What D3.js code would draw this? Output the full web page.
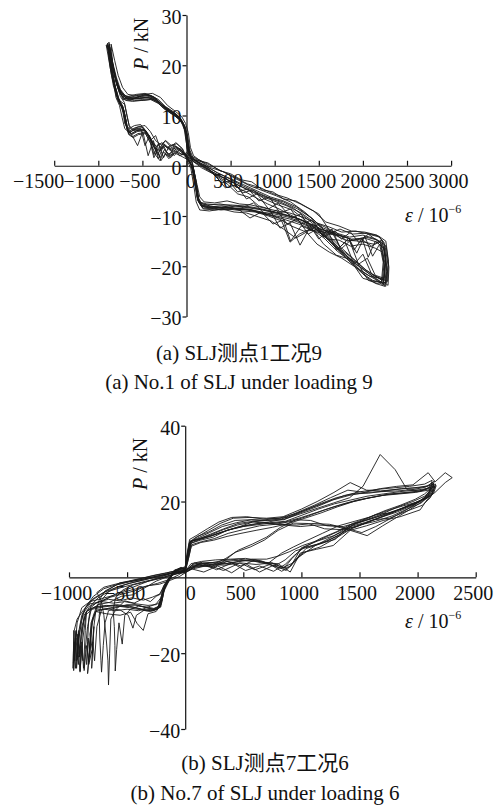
<!DOCTYPE html>
<html>
<head>
<meta charset="utf-8">
<script src="https://d3js.org/d3.v7.min.js"></script>
<style>
  body { margin: 0; background: #fff; }
  svg { display: block; }
</style>
</head>
<body>
<script>
// P-strain hysteresis loops of two SLJ gauges, redrawn with d3

// ---- panel (a): gauge 1, loading 9 ----
var xTicksA = [-1500, -1000, -500, 0, 500, 1000, 1500, 2000, 2500, 3000];
var yTicksA = [-30, -20, -10, 0, 10, 20, 30];

// every cycle is a list of [strain 10^-6, load kN]
var cycA1 = [[0,2],[60,0],[100,-3],[125,-6.5],[160,-7.8],[260,-8.2],[400,-8],[550,-8.4],[700,-8.6],[850,-9.2],[1000,-9.6],[1150,-10.2],[1300,-11.2],[1450,-12.4],[1600,-14.2],[1750,-16.8],[1900,-19.2],[2050,-21.2],[2150,-22.6],[2250,-23.6],
  [2265,-20],[2235,-16],[2150,-14.6],[2000,-13.8],[1850,-14.2],[1700,-13.4],[1550,-12.4],[1400,-10.2],[1250,-8.2],[1100,-7],[950,-6.2],[800,-5],[650,-3.8],[500,-2.6],[350,-1.4],[200,0.2],[100,1],[50,1.6],
  [20,3],[0,6],[-30,8],[-80,9.6],[-150,10.4],[-250,11.6],[-330,13],[-420,13.8],[-520,13.4],[-620,13.2],[-700,13.6],[-760,15],[-800,17],[-840,20],[-880,24],
  [-860,20],[-820,16],[-770,13],[-720,11.6],[-690,9],[-670,7],[-620,6.2],[-560,6.8],[-480,7],[-420,5.6],[-360,3.4],[-300,3],[-250,4],[-180,3],[-120,3.6],[-60,3],[0,2]];
var cycA2 = [[10,1.5],[70,-0.5],[110,-4],[135,-7],[180,-8.4],[300,-8.6],[450,-8.2],[600,-8.8],[720,-10.4],[850,-9.2],[980,-11.6],[1100,-10.8],[1180,-15],[1300,-12],[1450,-13],[1550,-15.5],[1700,-17.8],[1850,-18.6],[2000,-22.4],[2120,-23],[2230,-23.2],
  [2250,-19.4],[2200,-15],[2100,-16],[1980,-14.6],[1820,-15],[1680,-13],[1560,-14.2],[1420,-10.8],[1300,-11.6],[1180,-8.6],[1060,-9.4],[940,-6.2],[820,-7],[700,-4.6],[580,-5.2],[460,-2.6],[320,-1.8],[190,0.6],[90,1.4],[40,2],
  [10,4],[-10,7],[-40,8.6],[-90,9.8],[-170,10.8],[-270,12],[-350,13.4],[-440,14.2],[-540,13.8],[-640,13],[-720,13.2],[-770,15.4],[-810,18],[-850,21],[-895,24.4],
  [-870,21],[-830,17],[-800,13.6],[-760,12],[-730,9.6],[-700,7.4],[-650,6.6],[-590,7.2],[-520,7.4],[-470,4],[-420,6],[-370,2.2],[-320,4.4],[-260,1.6],[-200,3.8],[-140,2],[-70,3.4],[10,1.5]];
var cycA3 = [[-10,2.4],[50,0.4],[90,-2.5],[115,-6],[150,-7.4],[240,-7.8],[380,-7.6],[520,-8],[680,-8.2],[820,-8.6],[980,-9.2],[1120,-9.8],[1280,-10.6],[1420,-11.8],[1580,-13.6],[1720,-16.2],[1880,-18.4],[2020,-20.6],[2140,-22],[2280,-23],
  [2290,-19],[2260,-15],[2180,-14],[2040,-13.4],[1880,-13.6],[1740,-12.6],[1640,-13.4],[1500,-9.6],[1380,-8.4],[1240,-7],[1100,-6.6],[980,-5.2],[860,-4.8],[740,-3.2],[620,-2.8],[500,-1.6],[380,-1],[240,0.6],[130,1],[60,1.2],
  [30,2.6],[5,5.4],[-20,7.6],[-70,9.2],[-140,10],[-230,11.2],[-310,12.6],[-400,13.4],[-500,13.2],[-600,13.4],[-680,13.8],[-740,14.6],[-790,16.4],[-830,19.4],[-870,23.6],
  [-850,19.4],[-810,15.4],[-760,12.4],[-710,11],[-680,8.4],[-660,6.4],[-610,5.8],[-550,6.4],[-470,6.6],[-410,4.6],[-370,1.6],[-330,3.2],[-290,1],[-240,2.4],[-180,1.6],[-110,3],[-50,2.2],[-10,2.4]];
var cycA4 = [[5,1.8],[55,0.2],[95,-3.4],[130,-7],[170,-8],[280,-8.4],[420,-8.2],[580,-8.6],[720,-8.8],[870,-9.4],[1020,-10],[1170,-10.6],[1320,-11.6],[1480,-12.8],[1620,-14.8],[1780,-17.4],[1920,-19.6],[2080,-21.6],[2180,-22.8],[2260,-24],
  [2275,-20.6],[2245,-16.6],[2160,-15.2],[2020,-14.4],[1870,-14.6],[1720,-13.8],[1570,-13],[1420,-11.6],[1287,-15.8],[1174,-11.4],[1060,-12.4],[940,-8.6],[820,-8],[700,-6.2],[580,-5.6],[460,-3.6],[340,-2.2],[220,-0.2],[110,0.8],[55,1.4],
  [25,3.2],[0,6.4],[-35,8.4],[-85,9.4],[-160,10.2],[-260,11.4],[-340,12.8],[-430,13.6],[-530,13.6],[-630,13.4],[-710,13.4],[-765,14.8],[-805,17.4],[-845,20.6],[-885,23.8],
  [-865,20.4],[-825,16.4],[-775,13.2],[-725,11.8],[-695,9.2],[-675,7.2],[-625,6.4],[-565,7],[-485,7.2],[-425,5.8],[-365,3.6],[-305,3.2],[-255,4.2],[-185,3.2],[-125,3.8],[-65,3.2],[5,1.8]];
var cycA5 = [[0,2.2],[65,0.6],[105,-2.8],[140,-6.8],[190,-8.6],[320,-8.8],[470,-8.6],[640,-9],[780,-9.2],[930,-10],[1080,-11],[1174,-15.2],[1280,-13.6],[1400,-12.6],[1540,-13.6],[1680,-16],[1820,-18],[1960,-20.6],[2080,-22],[2200,-22.4],[2240,-22.8],
  [2255,-18.6],[2215,-14.8],[2120,-15.6],[1960,-15],[1800,-14.8],[1660,-13.6],[1500,-13],[1360,-11],[1200,-8.8],[1040,-7.8],[880,-6.6],[754,-4.8],[640,-5.4],[520,-3],[400,-3.4],[300,-1.6],[170,-0.4],[80,0.8],[30,1.8],
  [5,3.6],[-15,6.8],[-45,8.8],[-100,10],[-180,11],[-280,12.2],[-360,13.6],[-450,14.2],[-550,14],[-650,13.6],[-730,13.8],[-780,15.6],[-820,18.4],[-855,21.4],[-900,24.2],
  [-880,21.6],[-840,17.6],[-790,14],[-745,12.4],[-710,10.2],[-690,8],[-640,7],[-580,7.6],[-510,7.8],[-450,6.4],[-390,4.6],[-330,2.2],[-270,3.8],[-210,2.2],[-150,3],[-80,2.4],[0,2.2]];
var cycA6 = [[-5,1.6],[45,0.8],[85,-2],[120,-5.6],[145,-7.2],[230,-7.6],[360,-7.8],[500,-7.8],[660,-8],[800,-8.4],[960,-9],[1100,-9.6],[1240,-10.4],[1380,-11.4],[1500,-14.6],[1600,-12.8],[1700,-16.8],[1800,-15.2],[1900,-19.6],[2000,-17.6],[2100,-21.6],[2220,-22.8],
  [2240,-19.6],[2200,-15.4],[2060,-13.6],[1920,-13],[1760,-13.2],[1620,-12.2],[1480,-11.4],[1340,-9.2],[1180,-7.2],[1020,-6],[870,-5],[720,-4],[560,-2.6],[420,-1.2],[280,-0.4],[160,1],[70,1.8],[20,2.2],
  [0,4.4],[-25,7.2],[-60,8.8],[-120,10.2],[-200,11],[-290,12.4],[-380,13.8],[-470,14.4],[-570,14.2],[-660,13.8],[-740,14.2],[-790,16],[-830,18.8],[-865,22],[-910,24],
  [-890,22],[-850,18],[-800,14.4],[-755,12.8],[-720,10.6],[-700,8.4],[-650,7.4],[-590,8],[-520,8.2],[-460,6.8],[-400,4.8],[-340,3.8],[-280,4.6],[-220,3.6],[-160,4.2],[-90,3.4],[-5,1.6]];
var cycA7 = [[15,1.2],[75,-0.2],[115,-4.4],[145,-7.4],[200,-8.2],[330,-8.4],[480,-8.6],[620,-8.4],[760,-7.4],[900,-9.8],[1020,-8.8],[1140,-11.6],[1260,-10.6],[1380,-13.6],[1500,-12.4],[1640,-15.2],[1800,-18],[1940,-19.4],[2060,-22.8],[2160,-23.4],[2270,-23.2],
  [2285,-19.8],[2250,-15.8],[2170,-14.8],[2030,-14.2],[1890,-14.8],[1760,-14],[1620,-13.6],[1460,-11.4],[1300,-9.4],[1140,-8],[990,-7],[840,-6],[690,-4.8],[540,-3.4],[400,-2.2],[250,-0.8],[130,0.4],[70,1],
  [35,2.4],[10,5],[-20,7.8],[-60,9],[-130,10],[-220,11],[-300,12.4],[-390,13.2],[-490,13],[-590,13],[-670,13.2],[-735,14.4],[-780,16.2],[-825,19],[-865,23],
  [-845,19],[-805,15],[-755,12.2],[-705,10.8],[-675,8.2],[-655,6.2],[-605,5.6],[-545,6.2],[-465,6.4],[-405,4.4],[-345,2],[-300,1],[-260,2.8],[-200,1.4],[-140,2.6],[-70,2],[15,1.2]];
var cycA8 = [[5,2.6],[60,1],[100,-2.2],[135,-6.4],[175,-7.6],[270,-8],[410,-8.4],[560,-8],[710,-8.4],[860,-8.8],[1010,-9.4],[1160,-10],[1310,-10.8],[1460,-12],[1610,-13.8],[1760,-16.4],[1910,-18.8],[2040,-20.8],[2170,-22.2],[2285,-23.8],
  [2295,-20.2],[2265,-16.2],[2190,-14.2],[2060,-13.6],[1960,-15.4],[1860,-13.2],[1760,-14.6],[1640,-12.8],[1500,-11.6],[1400,-12.8],[1300,-9.6],[1190,-10.4],[1040,-7.4],[930,-8.6],[800,-5.6],[680,-6.6],[560,-3.8],[440,-4.4],[300,-1.4],[150,0.4],[80,1.4],
  [40,3],[15,5.8],[-15,7.8],[-65,9.4],[-135,10.6],[-240,11.8],[-320,13.2],[-410,14],[-510,13.8],[-610,13.6],[-690,13.8],[-750,15.2],[-795,17.6],[-835,20.4],[-875,24.2],
  [-855,20.2],[-815,16.2],[-765,12.8],[-715,11.4],[-685,8.8],[-665,6.8],[-615,6],[-555,4],[-495,6.8],[-435,2],[-375,5],[-320,1.4],[-260,4],[-200,1.8],[-140,3.6],[-80,2],[5,2.6]];
var cycA9 = [[-5,2],[55,0],[95,-3],[125,-6.8],[165,-8],[260,-8.4],[390,-8.8],[540,-8.6],[690,-8.8],[840,-9.4],[990,-10],[1130,-10.8],[1270,-11.6],[1420,-12.6],[1560,-14.4],[1710,-17],[1860,-19],[2010,-21.6],[2110,-22.8],[2210,-23.2],
  [2230,-19.2],[2190,-15.6],[2110,-18],[2020,-14],[1930,-17.4],[1840,-14.4],[1740,-16.2],[1650,-13.2],[1510,-12.6],[1370,-10.6],[1210,-8.4],[1060,-7.2],[900,-6.2],[760,-5.2],[600,-4],[460,-2.8],[330,-1.6],[180,0],[90,1.2],[40,1.8],
  [10,3.4],[-10,6.6],[-40,8.2],[-95,9.6],[-165,10.6],[-265,11.8],[-345,13.2],[-435,14],[-535,13.8],[-635,13.2],[-715,13.4],[-770,15],[-810,17.8],[-850,21],[-890,23.4],
  [-870,20],[-830,16],[-780,13],[-730,11.8],[-700,9.4],[-680,7.6],[-630,6.8],[-570,7.4],[-490,7.6],[-430,6.2],[-370,4.4],[-310,3.4],[-260,4.4],[-190,3.4],[-130,4],[-60,3.2],[-5,2]];
var cycA10 = [[10,2],[70,0.4],[110,-3.6],[130,-6.6],[170,-7.8],[290,-8.2],[440,-8.4],[590,-8.6],[740,-8.8],[890,-9.6],[1040,-10.4],[1190,-12],[1330,-13],[1470,-12.8],[1600,-14.6],[1740,-17.2],[1880,-19.6],[2030,-22],[2140,-23.4],[2250,-24],
  [2270,-21],[2240,-16.4],[2140,-15],[2060,-18.2],[1990,-14.4],[1900,-16.8],[1840,-14.4],[1700,-13.6],[1560,-12.8],[1420,-10.4],[1260,-8.6],[1100,-7.2],[940,-6.4],[790,-5.2],[640,-4],[490,-2.6],[350,-1.4],[210,0],[110,1],[60,1.6],
  [25,3.6],[5,6.2],[-25,8],[-75,9.4],[-145,10.4],[-245,11.4],[-325,12.8],[-415,13.6],[-515,13.4],[-615,13.4],[-695,13.6],[-755,15.2],[-800,17.2],[-840,20.2],[-880,24.6],
  [-860,20.6],[-820,16.6],[-770,13.4],[-720,11.8],[-690,9.2],[-670,7.2],[-620,6.4],[-560,7],[-480,7.2],[-420,5.8],[-360,3.8],[-300,1.6],[-250,3.2],[-180,2],[-120,3.4],[-60,2.8],[10,2]];
var cycA11 = [[0,1.4],[50,-0.6],[85,-4.2],[110,-7.2],[150,-8.8],[260,-9],[400,-8.6],[540,-9.2],[680,-9.4],[820,-10.2],[960,-11],[1100,-12.6],[1240,-14.4],[1360,-13.2],[1480,-15.6],[1620,-17.2],[1760,-18.4],[1900,-20],[2020,-21.4],[2140,-22.6],[2230,-23.8],
  [2245,-21],[2225,-17.2],[2140,-16.4],[2000,-15.6],[1860,-16],[1730,-14.8],[1600,-14.6],[1460,-12.4],[1320,-11],[1180,-9.8],[1050,-8.6],[920,-7.6],[790,-6.4],[650,-5],[520,-3.8],[380,-2.4],[250,-1],[140,0.2],[60,1],
  [30,2.8],[8,5.6],[-25,7.8],[-75,9],[-150,10.2],[-240,11.2],[-320,12.4],[-410,13.2],[-510,13],[-610,12.8],[-690,13],[-745,14.2],[-790,16.8],[-830,19.8],[-860,22.6],
  [-845,19.6],[-805,15.6],[-760,13],[-700,12.2],[-670,9.6],[-645,7.6],[-600,7],[-540,7.2],[-460,7],[-400,5.2],[-350,6],[-300,3.6],[-240,5],[-180,3.8],[-120,4.6],[-50,3.4],[0,1.4]];
var cycA12 = [[20,1],[80,-0.8],[120,-3.8],[150,-6.2],[200,-7.2],[320,-7.4],[460,-7],[600,-7.6],[730,-7.8],[880,-8.4],[1030,-9],[1170,-9.4],[1310,-10.2],[1450,-11.2],[1550,-14.2],[1650,-12.6],[1750,-16.6],[1850,-15],[1950,-19.6],[2050,-18.4],[2140,-21.8],[2240,-22.4],
  [2262,-18.8],[2238,-15.2],[2160,-13.8],[2020,-13.2],[1870,-13],[1730,-12],[1580,-11.2],[1440,-9],[1290,-7.6],[1140,-6.4],[990,-5.6],[840,-4.4],[690,-3.6],[540,-2.2],[390,-1],[260,0.2],[140,1.2],[80,2],
  [45,3.6],[20,6.6],[-10,8.4],[-55,9.8],[-125,10.8],[-215,12],[-295,13.6],[-385,14.4],[-485,14.2],[-585,14],[-665,14.2],[-725,15.6],[-775,18],[-815,21],[-855,24.2],
  [-840,20.8],[-800,16.8],[-750,13.8],[-705,12.6],[-675,10],[-650,8],[-605,7.2],[-545,7.8],[-470,8],[-410,6.8],[-350,5],[-290,4.2],[-235,5],[-170,4],[-110,4.4],[-45,3.4],[20,1]];

// ---- panel (b): gauge 7, loading 6 ----
var xTicksB = [-1000, -500, 0, 500, 1000, 1500, 2000, 2500];
var yTicksB = [-40, -20, 20, 40];

var cycB1 = [[0,2],[15,5],[35,9],[100,10.6],[200,12.4],[300,14.2],[413,15.6],[550,15.8],[700,15.6],[843,16],[1000,18],[1136,20],[1280,22.4],[1420,25],[1560,23],[1680,22.8],[1820,23.2],[1960,23.6],[2080,24],[2140,24.6],
  [2130,22],[2080,20.4],[2022,17.8],[1850,16],[1704,15],[1560,13.6],[1420,12.4],[1274,8.4],[1130,7.4],[990,6.4],[904,1.4],[800,3.6],[705,3.8],[560,4.6],[413,4.4],[280,3.8],[150,4],[60,3.4],[0,1.4],
  [-80,1.2],[-130,1],[-230,0.4],[-350,-0.4],[-460,-1],[-560,-1.4],[-680,-3.6],[-792,-5.6],[-860,-8],[-900,-12],[-930,-21],[-915,-14],[-945,-24],[-955,-17],[-960,-24.6],
  [-940,-16],[-920,-23],[-895,-15],[-860,-10],[-800,-8.4],[-700,-7.8],[-600,-7.4],[-448,-7.9],[-330,-8.8],[-276,-8.8],[-215,-7.9],[-189,-3.5],[-155,-1.6],[-100,1.6],[-40,2.6],[0,2]];
var cycB2 = [[0,2.4],[20,6],[45,9.6],[120,10.2],[220,11.2],[330,12.6],[450,13.8],[580,14.6],[720,14.2],[860,14.6],[1000,15.8],[1140,17.2],[1280,18.6],[1420,19.8],[1560,20.8],[1700,21.6],[1840,22],[1980,22.4],[2090,23],[2150,24],
  [2110,21],[2040,19],[1900,17.4],[1760,15.6],[1620,15.2],[1480,13.4],[1340,12.6],[1200,12.8],[1060,14.2],[929,14.3],[800,12.4],[680,9.8],[560,8],[430,6.6],[330,4.2],[220,2.8],[120,3.2],[40,2.6],[0,1.8],
  [-60,0.6],[-140,-0.6],[-240,-1.6],[-340,-2.4],[-440,-3.6],[-540,-4.4],[-640,-5.2],[-740,-6.4],[-820,-7.6],[-870,-10],[-890,-16],[-880,-22],[-900,-18],[-905,-25],
  [-890,-17],[-875,-24],[-860,-14],[-850,-9],[-760,-6.6],[-660,-5.8],[-560,-6.2],[-460,-5.4],[-360,-6],[-280,-5.2],[-220,-4.4],[-170,-1.6],[-120,0.8],[-60,2.2],[0,2.4]];
var cycB3 = [[0,1.8],[25,5.6],[50,9],[130,9.8],[240,10.6],[361,12.4],[500,13.4],[705,14.2],[850,13.8],[990,13.4],[1130,13.8],[1274,13.6],[1420,12.4],[1566,11],[1700,13.6],[1820,15.8],[1940,18],[2040,20],[2100,21.6],[2130,23.2],
  [2120,21.6],[2000,20],[1880,18.4],[1740,16.8],[1600,15.4],[1460,14.2],[1320,11],[1180,9],[1040,7.6],[940,4.4],[870,1.8],[760,3.2],[640,1.4],[520,3.6],[400,1.2],[280,3],[160,1.4],[60,2.2],[0,1.2],
  [-70,1],[-150,0.2],[-250,-1],[-350,-2.8],[-450,-4.6],[-550,-5],[-650,-6.6],[-750,-7.2],[-810,-8.6],[-840,-13],[-860,-19],[-870,-24.6],
  [-850,-18],[-830,-22],[-810,-12],[-770,-9],[-680,-9.6],[-560,-10],[-470,-9.2],[-413,-12.2],[-361,-14],[-320,-9.6],[-250,-9],[-205,-7],[-180,-3],[-150,-1],[-90,2],[-30,2.4],[0,1.8]];
var cycB4 = [[0,2],[18,5.4],[40,9.2],[110,10.4],[210,11.8],[320,13.4],[440,14.4],[570,15.2],[710,15],[850,15.2],[990,17],[1130,18.6],[1270,20.4],[1410,21.6],[1550,22.4],[1690,22.6],[1830,22.8],[1970,23.2],[2070,23.8],[2130,25],
  [2100,22.6],[2050,20.6],[1960,19],[1820,17.2],[1680,15.8],[1540,14.4],[1400,13.2],[1260,10.6],[1120,8.4],[980,5.4],[900,2.8],[820,2.4],[720,3.4],[600,4.2],[460,4.8],[320,4.4],[180,3.6],[80,3.8],[0,1.6],
  [-90,1.4],[-170,0.8],[-270,0.2],[-380,-0.6],[-480,-1.2],[-590,-2],[-690,-3.6],[-740,-6],[-770,-9],[-790,-14],[-800,-20],[-785,-13],[-805,-24],
  [-795,-17],[-780,-22],[-760,-13],[-720,-8.6],[-640,-8],[-540,-7.6],[-430,-7.2],[-340,-8],[-270,-8.4],[-220,-7.6],[-195,-4],[-160,-1.8],[-100,1.2],[-40,2.2],[0,2]];
var cycB5 = [[0,2.2],[22,6.4],[42,9.4],[115,10],[215,10.8],[325,12],[445,13.2],[575,14],[715,14.6],[855,15.4],[995,16.8],[1135,18.2],[1275,19.6],[1415,21],[1530,24],[1678,32.4],[1807,28.4],[1910,23.1],[2020,22.8],[2110,23.8],
  [2090,21.2],[2030,19.6],[1910,18],[1780,16.2],[1640,14.8],[1500,13.8],[1360,11.8],[1220,9.6],[1080,8.2],[950,7],[860,4.6],[770,3],[650,4.4],[520,5],[390,4.8],[260,4.6],[140,4.2],[50,3.6],[0,1.6],
  [-70,1.8],[-160,1.2],[-260,0.6],[-370,-0.2],[-490,-1],[-600,-1.8],[-700,-2.6],[-760,-4],[-720,-6.4],[-700,-10],[-680,-16],[-665,-22],[-660,-28.4],
  [-650,-20],[-640,-11],[-600,-8.6],[-520,-6.2],[-440,-6.8],[-360,-5.6],[-300,-6.4],[-250,-5],[-210,-4.4],[-185,-2.2],[-150,-0.6],[-95,1.4],[-35,2.6],[0,2.2]];
var cycB6 = [[0,1.6],[28,5],[55,8.6],[140,9.4],[250,10.2],[370,11.6],[500,12.6],[640,13.6],[780,14],[920,14.8],[1060,16.2],[1200,17.8],[1340,19.2],[1480,20.4],[1620,21.2],[1760,22],[1900,22.4],[2030,22.8],[2100,23.6],[2160,24.2],
  [2140,22.4],[2070,20.8],[1960,19.4],[1830,17.8],[1690,16.4],[1550,15],[1410,13.4],[1280,11.6],[1150,9.8],[1010,8.4],[900,6.8],[800,5.6],[700,4.8],[580,4.8],[440,4],[300,3.4],[170,3],[70,2.6],[0,1.4],
  [-50,1.2],[-130,0.6],[-230,-0.4],[-340,-1.2],[-450,-2],[-540,-3.4],[-600,-5.4],[-620,-8.6],[-610,-13],[-605,-18],[-602,-24.7],
  [-590,-19],[-570,-12],[-542,-17.6],[-520,-10],[-470,-8.4],[-400,-7.6],[-330,-7.8],[-270,-8.2],[-225,-7.6],[-195,-4.2],[-160,-1.4],[-110,0.6],[-50,2.2],[0,1.6]];
var cycB7 = [[0,2.6],[16,5.8],[38,9.4],[105,10.8],[205,12],[315,13.8],[430,15],[560,15.2],[690,15],[830,15.4],[970,17.2],[1110,19],[1250,21],[1400,23],[1540,22.4],[1680,23.4],[1820,24],[1960,24.4],[2091,27.6],[2151,25.2],[2238,27.6],[2298,26.3],[2238,25],
  [2150,22.4],[2090,21],[1990,19.8],[1860,18],[1720,16.4],[1580,14.6],[1440,13],[1300,10.4],[1160,8],[1020,6.6],[930,3.8],[840,2.6],[740,3.8],[620,4.2],[490,4.4],[350,3.6],[210,3.8],[100,3.2],[0,1.8],
  [-100,1.6],[-180,1],[-280,0.4],[-390,-0.4],[-500,-1.2],[-600,-2],[-700,-3],[-790,-5],[-850,-7.6],[-890,-10],[-920,-15],[-905,-20],[-935,-22],
  [-925,-15],[-910,-21],[-890,-13],[-850,-9],[-780,-7.8],[-680,-7.4],[-580,-7.6],[-480,-8],[-380,-8.6],[-300,-9],[-240,-8.4],[-205,-5],[-175,-2.6],[-125,0.2],[-60,2],[0,2.6]];
var cycB8 = [[0,2],[30,6],[55,9.6],[140,10.2],[260,11.4],[380,12.6],[520,13.6],[680,14.4],[820,14],[960,13.8],[1100,14.2],[1240,14],[1380,13],[1520,11.8],[1640,13.4],[1760,15.4],[1880,17.4],[1990,19.4],[2070,21.4],[2120,23.6],
  [2100,22],[2030,20],[1900,18.6],[1770,17],[1640,16.6],[1500,14.6],[1360,13.4],[1220,13.6],[1080,15],[950,15.2],[820,13.2],[700,10.6],[580,8.8],[460,7.2],[350,5],[240,3.4],[130,3.6],[50,3],[0,1.6],
  [-60,1.4],[-140,1],[-240,0.2],[-350,-0.6],[-460,-1.4],[-570,-2.4],[-660,-3.8],[-720,-6],[-740,-10],[-735,-16],[-725,-22],[-720,-25],
  [-705,-18],[-690,-12],[-660,-8.8],[-600,-8],[-500,-7.2],[-400,-7.4],[-310,-8.2],[-260,-8.6],[-210,-7.8],[-185,-3.8],[-150,-1.6],[-100,1.2],[-40,2.4],[0,2]];
var cycB9 = [[0,1.8],[24,5.2],[48,9],[125,10],[230,11],[345,12.2],[470,13.4],[600,14.8],[740,15.4],[880,15.8],[1020,17.6],[1160,19.4],[1300,21],[1440,22],[1580,22.2],[1720,22.8],[1860,23.4],[2000,23.6],[2090,24.2],[2145,25.4],
  [2115,23],[2060,21.4],[1960,20],[1830,18.6],[1700,16.8],[1560,15.2],[1420,13.8],[1290,10],[1150,8.8],[1010,7.8],[920,5],[850,2.4],[750,3.8],[610,3.4],[480,3.8],[340,3.2],[200,3.4],[90,2.8],[0,1.4],
  [-80,1.4],[-160,0.6],[-260,0],[-370,-0.8],[-480,-1.6],[-590,-2.6],[-700,-4],[-800,-6],[-880,-8.8],[-930,-11],[-955,-14],[-962,-20],[-965,-24],
  [-958,-14],[-950,-22],[-935,-14],[-905,-24.7],[-880,-16],[-850,-9],[-790,-8],[-690,-7.6],[-590,-7.2],[-480,-7.6],[-370,-8.4],[-300,-8.8],[-240,-8.2],[-205,-5.6],[-175,-2.8],[-120,0.4],[-60,2],[0,1.8]];
var cycB10 = [[0,2.2],[20,5.8],[44,9.4],[118,10.2],[218,11.4],[332,12.8],[455,14.2],[585,14.8],[725,14.4],[865,14.8],[1005,16.4],[1145,18],[1285,19.4],[1425,20.4],[1565,21.4],[1705,22],[1845,22.6],[1985,23],[2080,23.4],[2140,24.8],
  [2120,22.8],[2060,21],[1980,19.4],[1840,17.8],[1700,16],[1560,14.4],[1420,13],[1280,11],[1140,9.6],[1000,7.8],[910,3],[830,1.6],[730,3.4],[600,2],[470,3.8],[330,1.8],[200,3.2],[90,2.4],[0,1.8],
  [-60,1],[-140,0.4],[-240,-0.4],[-340,-1],[-440,-1.8],[-540,-2.6],[-650,-3.6],[-750,-5.4],[-810,-7.4],[-830,-11],[-840,-17],[-848,-23],
  [-835,-16],[-820,-21],[-800,-11],[-760,-8.6],[-660,-8.2],[-560,-8.6],[-490,-10],[-450,-13.4],[-420,-10],[-350,-8.6],[-280,-8.4],[-220,-7.8],[-192,-3.4],[-158,-1.4],[-95,1.6],[-35,2.4],[0,2.2]];
var cycB11 = [[0,1.4],[26,4.6],[52,8.2],[135,9.2],[245,9.8],[360,10.8],[480,11.6],[610,12.4],[750,13.2],[890,14.2],[1030,15.6],[1170,17],[1310,18.6],[1450,20],[1590,21],[1730,21.8],[1870,22.2],[2000,22.6],[2095,23.4],[2155,24.6],
  [2135,22.6],[2075,21],[1990,19.8],[1870,18.8],[1740,17.6],[1600,16],[1460,14.8],[1320,13.6],[1180,11.6],[1040,9.6],[930,8],[830,6.4],[714,3.7],[600,4.6],[480,3],[360,4.2],[230,2.6],[110,3.4],[0,1.2],
  [-50,0.2],[-130,-0.8],[-220,-1.8],[-320,-2.2],[-420,-3],[-520,-3.8],[-620,-4.8],[-720,-5.6],[-820,-6.4],[-890,-8],[-930,-12],[-950,-19],[-940,-14],[-962,-22.6],
  [-945,-16],[-935,-24],[-915,-16],[-880,-9.6],[-820,-7],[-720,-6.4],[-620,-6.8],[-520,-6.4],[-420,-7],[-320,-7.4],[-250,-7.2],[-200,-6.2],[-170,-2],[-120,0.6],[-60,1.4],[0,1.4]];
var cycB12 = [[0,2.8],[18,6.6],[38,10],[95,11],[190,12.8],[290,14.6],[400,15.8],[530,16],[670,15.4],[810,15.6],[950,16.8],[1090,18.4],[1230,20],[1370,21.6],[1510,22.6],[1650,23.2],[1790,23.6],[1930,24],[2060,24.6],[2125,25.6],
  [2110,23.4],[2060,22],[1980,20.6],[1850,19],[1720,17.6],[1580,15.8],[1440,14.2],[1300,12],[1160,10.2],[1020,7.8],[940,5.8],[860,3.4],[760,1.6],[640,3],[520,1.8],[400,3.8],[270,2],[140,3.8],[0,2],
  [-40,1.6],[-110,1.2],[-200,0.2],[-300,-0.8],[-400,-2],[-500,-3.2],[-600,-4.4],[-700,-6],[-760,-7.6],[-790,-10],[-820,-15],[-800,-19],[-830,-23],[-815,-16],[-840,-25.4],
  [-820,-18],[-800,-12],[-770,-9],[-700,-8.4],[-600,-8.8],[-500,-8.4],[-400,-8.8],[-300,-7.6],[-250,-7],[-210,-5.4],[-180,-2.2],[-130,0.2],[-70,2],[0,2.8]];

var cyclesA = [cycA1, cycA2, cycA3, cycA4, cycA5, cycA6, cycA7, cycA8, cycA9, cycA10, cycA11, cycA12];
var cyclesB = [cycB1, cycB2, cycB3, cycB4, cycB5, cycB6, cycB7, cycB8, cycB9, cycB10, cycB11, cycB12];

var serif = "'Liberation Serif', 'Times New Roman', serif";
var serifCJK = "'Liberation Serif', 'Times New Roman', 'Noto Sans CJK SC', serif";

window.onload = function() {

    var w = 494, h = 807;

    var svg = d3.select("body")
        .append("svg")
        .attr("width", w)
        .attr("height", h)
        .style("background-color", "#ffffff");

    //one panel = two axes crossing at the origin + the loops + titles
    function drawPanel(opt) {
        var x = d3.scaleLinear().domain(opt.xDomain).range(opt.xRange);
        var y = d3.scaleLinear().domain(opt.yDomain).range(opt.yRange);
        var g = svg.append("g").attr("class", opt.name);

        //horizontal axis, ticks pointing up, labels below
        var xAxis = g.append("g")
            .attr("class", "x-axis")
            .attr("transform", "translate(0," + y(0) + ")")
            .call(d3.axisBottom(x)
                .tickValues(opt.xTicks)
                .tickFormat(d3.format("d"))
                .tickSize(-5)
                .tickSizeOuter(0)
                .tickPadding(8));

        //vertical axis, ticks to the left
        var yAxis = g.append("g")
            .attr("class", "y-axis")
            .attr("transform", "translate(" + x(0) + ",0)")
            .call(d3.axisLeft(y)
                .tickValues(opt.yTicks)
                .tickFormat(d3.format("d"))
                .tickSize(4)
                .tickSizeOuter(0)
                .tickPadding(1));

        [xAxis, yAxis].forEach(function(a) {
            a.attr("font-family", serif).attr("font-size", 20);
            a.selectAll("path, line").attr("stroke", "#111").attr("stroke-width", 1.2);
            a.selectAll("text").attr("fill", "#111");
        });
        yAxis.selectAll("text").attr("dy", "0.42em");
        //labels sit a little off their ticks in the original
        xAxis.selectAll(".tick text").attr("dx", opt.xLabelDx);

        //loops
        var line = d3.line()
            .x(function(d) { return x(d[0]); })
            .y(function(d) { return y(d[1]); });

        g.append("g")
            .attr("class", "loops")
            .selectAll("path")
            .data(opt.cycles)
            .enter()
            .append("path")
            .attr("d", line)
            .attr("fill", "none")
            .attr("stroke", "#1a1a1a")
            .attr("stroke-width", 0.9)
            .attr("stroke-linejoin", "round");

        //P / kN, rotated
        var pt = g.append("text")
            .attr("transform", "translate(" + opt.pPos[0] + "," + opt.pPos[1] + ") rotate(-90)")
            .attr("font-family", serif)
            .attr("font-size", 20)
            .attr("fill", "#111");
        pt.append("tspan").attr("font-style", "italic").text("P");
        pt.append("tspan").text(" / kN");

        //epsilon / 10^-6
        var et = g.append("text")
            .attr("x", opt.ePos[0])
            .attr("y", opt.ePos[1])
            .attr("font-family", serif)
            .attr("font-size", 20)
            .attr("fill", "#111");
        et.append("tspan").attr("font-style", "italic").text("\u03b5");
        et.append("tspan").text(" / 10");
        et.append("tspan").attr("font-size", 12).attr("dy", -9).text("\u22126");

        //two caption lines
        g.selectAll(".caption")
            .data(opt.captions)
            .enter()
            .append("text")
            .attr("class", "caption")
            .attr("x", opt.capX)
            .attr("y", function(d, i) { return opt.capY[i]; })
            .attr("text-anchor", "middle")
            .attr("font-family", serifCJK)
            .attr("font-size", 21)
            .attr("fill", "#111")
            .text(function(d) { return d; });
    }

    drawPanel({
        name: "panel-a",
        xDomain: [-1500, 3000], xRange: [54.2, 451.1],
        yDomain: [30, -30], yRange: [15, 316.5],
        xTicks: xTicksA, yTicks: yTicksA,
        xLabelDx: function(d) {
            if (d === 0) return 4;
            if (d === -1500) return -16;
            if (d === -1000) return -10;
            return -3;
        },
        cycles: cyclesA,
        pPos: [148, 70], ePos: [405, 222],
        captions: ["(a) SLJ\u6d4b\u70b91\u5de5\u51b59", "(a) No.1 of SLJ under loading 9"],
        capX: 239, capY: [360, 389]
    });

    drawPanel({
        name: "panel-b",
        xDomain: [-1000, 2500], xRange: [69, 475.7],
        yDomain: [40, -40], yRange: [425.7, 729],
        xTicks: xTicksB, yTicks: yTicksB,
        xLabelDx: function(d) {
            if (d === 0) return 5;
            return -3;
        },
        cycles: cyclesB,
        pPos: [147, 490], ePos: [405, 628],
        captions: ["(b) SLJ\u6d4b\u70b97\u5de5\u51b56", "(b) No.7 of SLJ under loading 6"],
        capX: 265, capY: [770, 800]
    });
};
</script>
</body>
</html>
